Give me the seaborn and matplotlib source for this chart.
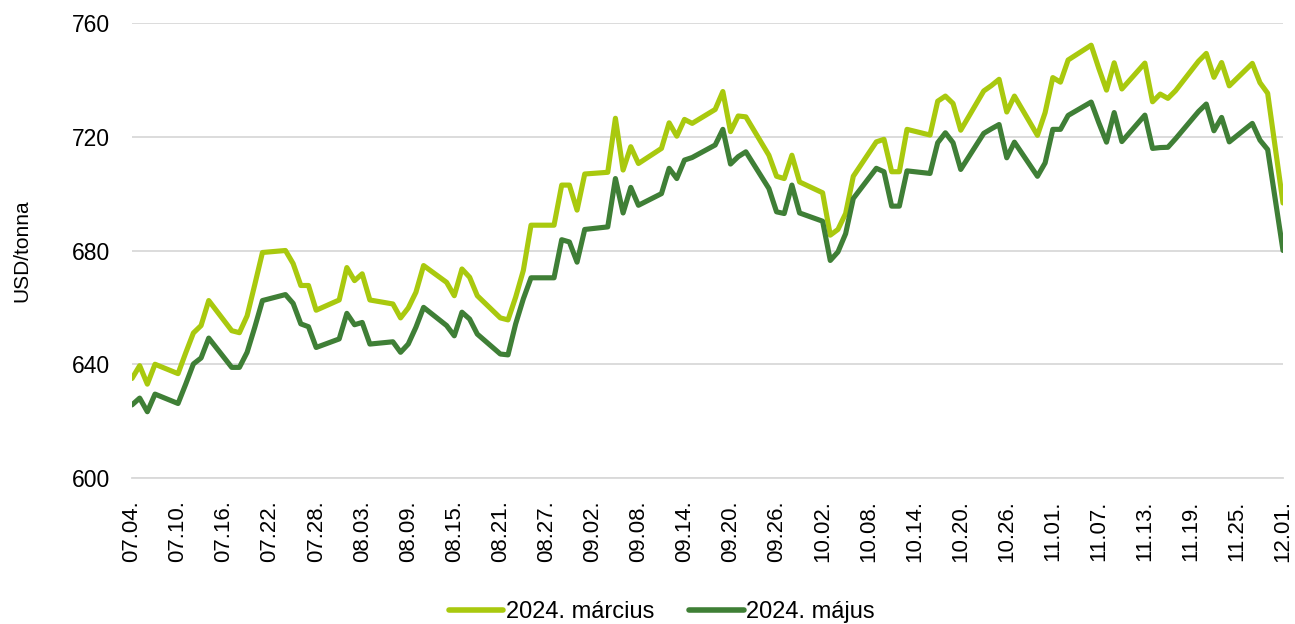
import matplotlib
matplotlib.use("Agg")
import matplotlib.pyplot as plt
import matplotlib.dates as mdates
import seaborn as sns
import pandas as pd

# trading days (2023) and settlement prices, USD/tonna
days = [
    "07-04", "07-05", "07-06", "07-07", "07-10", "07-11", "07-12", "07-13", "07-14",
    "07-17", "07-18", "07-19", "07-20", "07-21", "07-24", "07-25", "07-26", "07-27", "07-28",
    "07-31", "08-01", "08-02", "08-03", "08-04", "08-07", "08-08", "08-09", "08-10", "08-11",
    "08-14", "08-15", "08-16", "08-17", "08-18", "08-21", "08-22", "08-23", "08-24", "08-25",
    "08-28", "08-29", "08-30", "08-31", "09-01", "09-04", "09-05", "09-06", "09-07", "09-08",
    "09-11", "09-12", "09-13", "09-14", "09-15", "09-18", "09-19", "09-20", "09-21", "09-22",
    "09-25", "09-26", "09-27", "09-28", "09-29", "10-02", "10-03", "10-04", "10-05", "10-06",
    "10-09", "10-10", "10-11", "10-12", "10-13", "10-16", "10-17", "10-18", "10-19", "10-20",
    "10-23", "10-24", "10-25", "10-26", "10-27", "10-30", "10-31", "11-01", "11-02", "11-03",
    "11-06", "11-07", "11-08", "11-09", "11-10", "11-13", "11-14", "11-15", "11-16", "11-17",
    "11-20", "11-21", "11-22", "11-23", "11-24", "11-27", "11-28", "11-29", "11-30", "12-01",
]
march = [
    635, 639.5, 633, 640, 636.7, 644, 651, 653.6, 662.4,
    651.8, 651.1, 657, 668, 679.3, 680, 675.4, 667.7, 667.7, 659,
    662.6, 674, 669.4, 671.8, 662.6, 661.2, 656.3, 659.8, 665.3, 674.7,
    668.8, 664.1, 673.5, 670.6, 664.1, 656.3, 655.6, 663.6, 673, 688.9,
    688.9, 703, 703, 694.2, 706.9, 707.5, 726.5, 708.3, 716.5, 710.6,
    715.9, 724.9, 720.2, 726.1, 724.7, 729.6, 735.9, 721.8, 727.3, 727,
    713.5, 706.1, 705.3, 713.5, 704.1, 700.3, 685.4, 687.4, 693, 706.1,
    718.2, 719.1, 707.7, 707.7, 722.6, 720.6, 732.5, 734.3, 731.7, 722.3,
    736.1, 738, 740.2, 728.7, 734.3, 720.5, 728.5, 740.8, 739.2, 747,
    752.2, 744, 736.4, 746, 736.8, 745.9, 732.3, 735, 733.5, 736.2,
    746.6, 749.3, 740.9, 746.1, 737.9, 745.8, 739, 735.3, 716, 696.7,
]
may = [
    625.7, 628.1, 623.3, 629.5, 626.2, 633, 640.1, 642.2, 649.2,
    638.9, 638.9, 644.2, 653, 662.4, 664.5, 661.4, 654.2, 653.2, 645.9,
    648.9, 657.9, 653.9, 654.7, 647.1, 647.9, 644.2, 647.1, 653, 660,
    653.6, 650, 658.3, 655.9, 650.6, 643.6, 643.3, 654.2, 663, 670.4,
    670.4, 683.8, 683, 675.9, 687.4, 688.3, 705.3, 693.2, 702.2, 695.9,
    700, 708.9, 705.3, 711.8, 712.7, 717.1, 722.6, 710.4, 713, 714.7,
    701.8, 693.6, 693, 703, 693.2, 690.3, 676.5, 679.5, 685.9, 698.3,
    708.9, 707.7, 695.6, 695.6, 708, 707.1, 717.9, 721.4, 717.9, 708.5,
    721.2, 722.8, 724.3, 712.6, 718.1, 706.1, 710.8, 722.6, 722.6, 727.5,
    732.2, 724.9, 718.1, 728.5, 718.3, 727.6, 715.9, 716.2, 716.3, 719.3,
    728.9, 731.5, 722.1, 726.8, 718.2, 724.7, 718.8, 715.5, 697.8, 680,
]
series_names = ["2024. március", "2024. május"]
colors = ["#A9C90E", "#3F7F36"]
y_ticks = [600, 640, 680, 720, 760]

sns.set_style("white")
plt.rcParams["font.family"] = ["Liberation Sans", "DejaVu Sans"]
plt.rcParams["text.color"] = "black"
plt.rcParams["xtick.labelcolor"] = "black"
plt.rcParams["ytick.labelcolor"] = "black"
plt.rcParams["axes.labelcolor"] = "black"

dates = pd.to_datetime(["2023-" + d for d in days])
frame = pd.DataFrame({
    "date": list(dates) * 2,
    "price": march + may,
    "series": [series_names[0]] * len(days) + [series_names[1]] * len(days),
})

fig = plt.figure(figsize=(12.95, 6.24), dpi=100)
ax = fig.add_axes([132 / 1295, 1 - 478 / 624, 1151 / 1295, 455 / 624])

sns.lineplot(data=frame, x="date", y="price", hue="series", palette=colors,
             linewidth=3.7, ax=ax)
for line in ax.lines:
    line.set_solid_joinstyle("round")
    line.set_solid_capstyle("round")

handles, labels = ax.get_legend_handles_labels()
ax.get_legend().remove()
for h in handles:
    h.set_linewidth(4)
fig.legend(handles, labels, loc="lower center", bbox_to_anchor=(0.511, -0.033),
           ncol=2, frameon=False, fontsize=17, handlelength=2.3,
           handletextpad=0.1, columnspacing=1.5)

ax.set_xlim(dates[0], dates[-1])
ax.set_xticks(pd.date_range(dates[0], dates[-1], freq="6D"))
ax.xaxis.set_major_formatter(mdates.DateFormatter("%m.%d."))
ax.set_ylim(600, 760)
ax.set_yticks(y_ticks)

ax.grid(axis="y", color="#D9D9D9", linewidth=1.3)
ax.set_axisbelow(True)
for side in ["left", "right", "top"]:
    ax.spines[side].set_visible(False)
ax.spines["bottom"].set_color("#D9D9D9")
ax.spines["bottom"].set_linewidth(1.3)

ax.tick_params(axis="x", direction="out", length=6, width=1.3, color="#D9D9D9",
               labelsize=16, labelrotation=90, pad=10)
ax.tick_params(axis="y", length=0, labelsize=16.5, pad=16)

ax.set_xlabel("")
ax.set_ylabel("USD/tonna", fontsize=15)
ax.yaxis.set_label_coords(-0.087, 0.5)

fig.savefig("out.png", dpi=100)
